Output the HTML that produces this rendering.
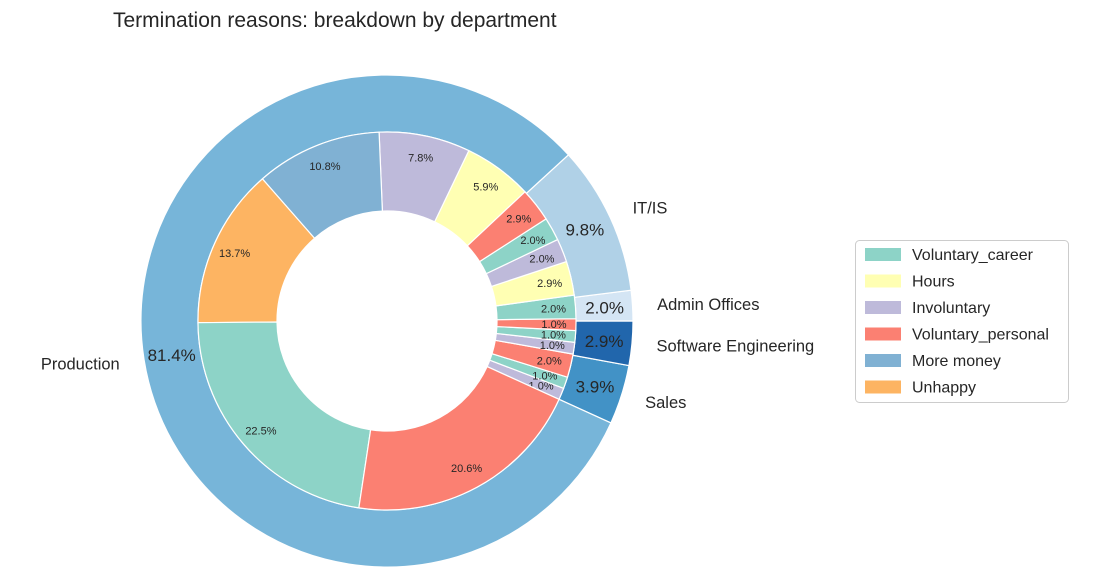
<!DOCTYPE html>
<html><head><meta charset="utf-8">
<style>
html,body{margin:0;padding:0;background:#fff;}
svg{display:block;font-family:"Liberation Sans",sans-serif;}
</style></head>
<body>
<svg id="chart" width="1093" height="581" viewBox="0 0 1093 581">
<text x="113" y="27" font-size="21" fill="#262626">Termination reasons: breakdown by department</text>
<g id="outer"></g>
<g id="inner"></g>
<g id="legend"></g>
</svg>
<script>
const departments = ["Sales","Software Engineering","Admin Offices","IT/IS","Production"];
const deptValues = [3.9, 2.9, 2.0, 9.8, 81.4];
const deptColors = ["#4292c6","#2166ac","#d4e5f4","#b0d1e7","#77b5d9"];
const innerReasons = ["Involuntary","Voluntary_career","Voluntary_personal","Involuntary","Voluntary_career","Voluntary_personal","Voluntary_career","Hours","Involuntary","Voluntary_career","Voluntary_personal","Hours","Involuntary","More money","Unhappy","Voluntary_career","Voluntary_personal"];
const innerValues = [1.0,1.0,2.0, 1.0,1.0,1.0, 2.0, 2.9,2.0,2.0,2.9, 5.9,7.8,10.8,13.7,22.5,20.6];
const legendLabels = ["Voluntary_career","Hours","Involuntary","Voluntary_personal","More money","Unhappy"];
const reasonColors = {"Voluntary_career":"#8dd3c7","Hours":"#ffffb3","Involuntary":"#bebada","Voluntary_personal":"#fb8072","More money":"#80b1d3","Unhappy":"#fdb462"};

const NS="http://www.w3.org/2000/svg";
const cx=387, cy=321, R=246, RM=189, R0=110;
const startDeg=-(deptValues[0]+deptValues[1])*3.6;
function pt(r,deg){const a=deg*Math.PI/180;return [cx+r*Math.cos(a), cy-r*Math.sin(a)];}
function wedge(r1,r2,a1,a2){
  const [x1,y1]=pt(r2,a1),[x2,y2]=pt(r2,a2),[x3,y3]=pt(r1,a2),[x4,y4]=pt(r1,a1);
  const lg=(a2-a1)>180?1:0;
  return `M${x1},${y1} A${r2},${r2} 0 ${lg} 0 ${x2},${y2} L${x3},${y3} A${r1},${r1} 0 ${lg} 1 ${x4},${y4} Z`;
}
function mk(tag,attrs,parent){const e=document.createElementNS(NS,tag);for(const k in attrs)e.setAttribute(k,attrs[k]);parent.appendChild(e);return e;}
const tot=deptValues.reduce((a,b)=>a+b,0);
const outer=document.getElementById('outer');
let a=startDeg;
deptValues.forEach((v,i)=>{
  const span=v/tot*360, a2=a+span, mid=a+span/2;
  const p=mk('path',{d:wedge(RM,R,a,a2),fill:deptColors[i],stroke:'#fff','stroke-width':1.2},outer);
  
  
  const [tx,ty]=pt(218,mid);
  const t=mk('text',{x:tx,y:ty+6,'font-size':17,'text-anchor':'middle',fill:'#262626'},outer);
  t.textContent=v.toFixed(1)+'%';
  
  
  const [lx,ly]=pt(R*1.1,mid);
  const c=Math.cos(mid*Math.PI/180);
  const l=mk('text',{x:lx,y:ly+6,'font-size':16.5,'text-anchor':c>=0?'start':'end',fill:'#262626'},outer);
  l.textContent=departments[i];
  
  
  a=a2;
});
const inner=document.getElementById('inner');
const itot=innerValues.reduce((x,y)=>x+y,0);
a=startDeg;
innerValues.forEach((v,i)=>{
  const span=v/itot*360, a2=a+span, mid=a+span/2;
  const p=mk('path',{d:wedge(R0,RM,a,a2),fill:reasonColors[innerReasons[i]],stroke:'#fff','stroke-width':1.2},inner);
  
  
  const [tx,ty]=pt(167,mid);
  const t=mk('text',{x:tx,y:ty+4,'font-size':11,'text-anchor':'middle',fill:'#262626'},inner);
  t.textContent=v.toFixed(1)+'%';
  
  
  a=a2;
});
const lg=document.getElementById('legend');
const box=mk('rect',{x:855.5,y:240.5,width:213,height:162,rx:4,fill:'#fff',stroke:'#cccccc'},lg);


legendLabels.forEach((lab,i)=>{
  const y=245+i*26.5;
  const g=mk('g',{},lg);
  
  
  mk('rect',{x:865,y:y+3,width:36,height:13,fill:reasonColors[lab]},g);
  const t=mk('text',{x:912,y:y+15,'font-size':16,fill:'#262626'},g);
  t.textContent=lab;
});
</script>
</body></html>
